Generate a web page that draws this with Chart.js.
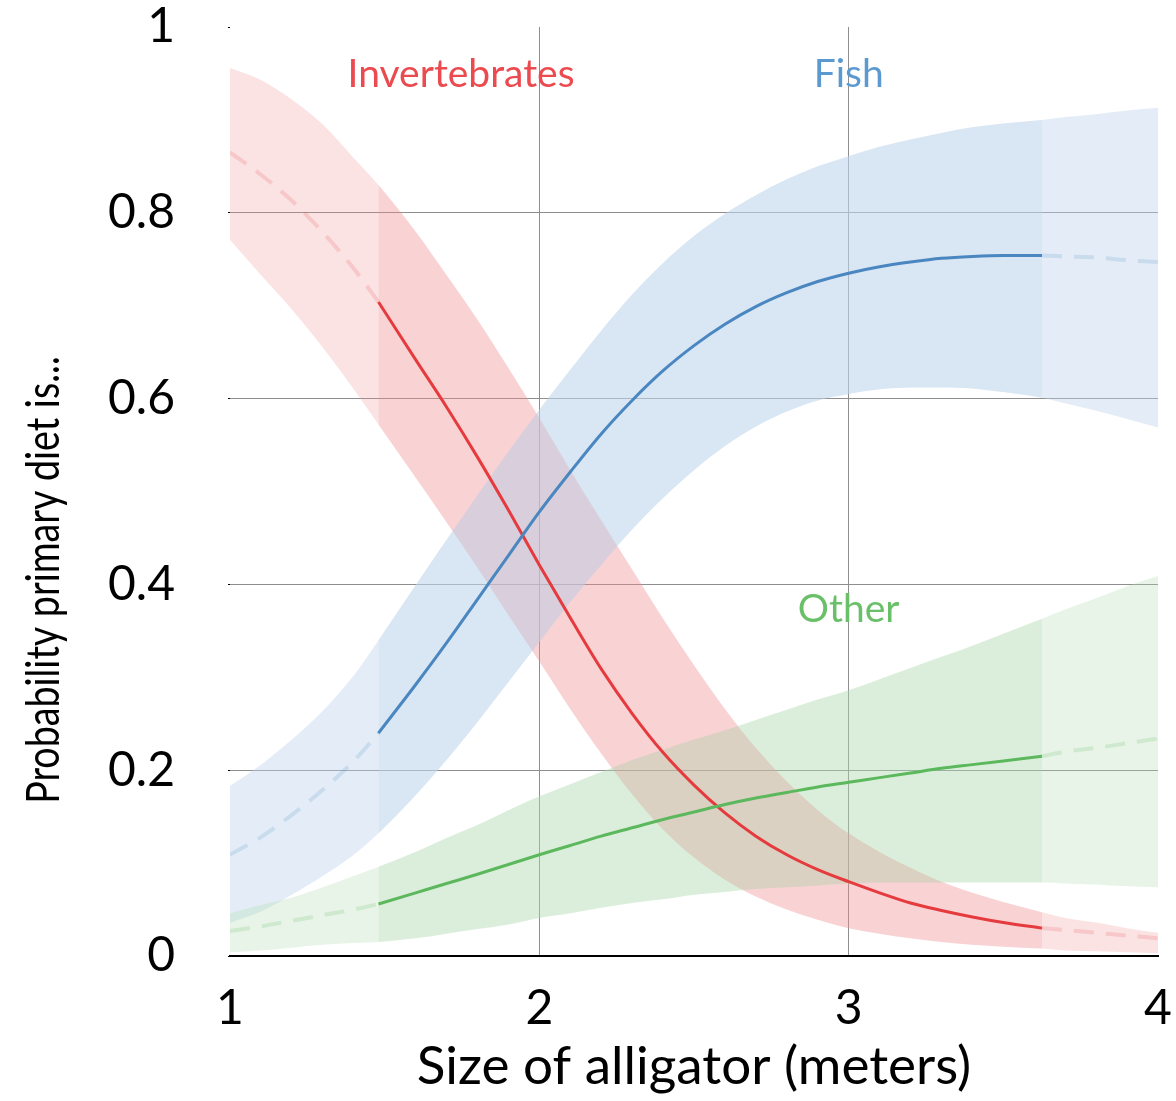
<!DOCTYPE html>
<html>
<head>
<meta charset="utf-8">
<title>Alligator diet by size</title>
<script src="https://cdn.jsdelivr.net/npm/chart.js@4"></script>
<style>
  html, body { margin: 0; padding: 0; background: #fff; }
  #wrap { width: 1176px; height: 1101px; position: relative; }
</style>
</head>
<body>
<div id="wrap"><canvas id="diet"></canvas></div>
<script>
// alligator length (m) where the fitted curves are evaluated
const sizes = [1.0, 1.1, 1.2, 1.3, 1.4, 1.48, 1.6, 1.7, 1.8, 1.9, 2.0, 2.1, 2.2, 2.3, 2.4, 2.5,
               2.6, 2.7, 2.8, 2.9, 3.0, 3.1, 3.2, 3.3, 3.4, 3.5, 3.625, 3.7, 3.8, 3.9, 4.0];

// sampled alligators only span this range, the rest is extrapolation
const observedFrom = 1.48;
const observedTo = 3.625;

const invertMean = [0.865, 0.841, 0.813, 0.779, 0.740, 0.704, 0.642, 0.591, 0.537, 0.480, 0.421, 0.364, 0.309, 0.261, 0.219, 0.184,
                    0.154, 0.129, 0.109, 0.093, 0.080, 0.068, 0.057, 0.049, 0.042, 0.036, 0.030, 0.028, 0.025, 0.022, 0.019];
const invertHigh = [0.956, 0.943, 0.922, 0.895, 0.859, 0.830, 0.780, 0.733, 0.685, 0.633, 0.579, 0.523, 0.469, 0.416, 0.363, 0.313,
                    0.266, 0.224, 0.188, 0.157, 0.132, 0.112, 0.095, 0.080, 0.068, 0.058, 0.047, 0.041, 0.036, 0.030, 0.025];
const invertLow  = [0.771, 0.733, 0.696, 0.655, 0.610, 0.572, 0.515, 0.467, 0.418, 0.367, 0.317, 0.266, 0.218, 0.174, 0.136, 0.106,
                    0.082, 0.064, 0.050, 0.039, 0.030, 0.024, 0.019, 0.015, 0.012, 0.010, 0.008, 0.006, 0.005, 0.004, 0.003];

const fishMean = [0.109, 0.128, 0.152, 0.179, 0.210, 0.240, 0.292, 0.337, 0.384, 0.431, 0.478, 0.521, 0.562, 0.598, 0.630, 0.657,
                  0.680, 0.699, 0.714, 0.726, 0.735, 0.742, 0.747, 0.751, 0.753, 0.754, 0.754, 0.753, 0.752, 0.749, 0.747];
const fishHigh = [0.183, 0.206, 0.233, 0.264, 0.302, 0.340, 0.399, 0.448, 0.496, 0.543, 0.588, 0.631, 0.673, 0.712, 0.746, 0.775,
                  0.799, 0.819, 0.836, 0.850, 0.861, 0.871, 0.879, 0.886, 0.892, 0.896, 0.900, 0.903, 0.906, 0.910, 0.913];
const fishLow  = [0.036, 0.048, 0.066, 0.086, 0.109, 0.132, 0.173, 0.211, 0.252, 0.295, 0.338, 0.381, 0.421, 0.459, 0.493, 0.523,
                  0.549, 0.570, 0.586, 0.598, 0.605, 0.610, 0.612, 0.612, 0.611, 0.607, 0.601, 0.595, 0.587, 0.578, 0.569];

const otherMean = [0.027, 0.032, 0.038, 0.044, 0.050, 0.056, 0.068, 0.078, 0.088, 0.0985, 0.109, 0.119, 0.129, 0.138, 0.147, 0.155,
                   0.163, 0.170, 0.176, 0.182, 0.187, 0.192, 0.197, 0.202, 0.206, 0.210, 0.215, 0.220, 0.224, 0.229, 0.234];
const otherHigh = [0.046, 0.055, 0.063, 0.074, 0.086, 0.096, 0.112, 0.127, 0.141, 0.157, 0.172, 0.185, 0.198, 0.211, 0.222, 0.233,
                   0.243, 0.254, 0.265, 0.276, 0.286, 0.298, 0.310, 0.322, 0.334, 0.347, 0.363, 0.373, 0.385, 0.398, 0.409];
const otherLow  = [0.004, 0.006, 0.009, 0.012, 0.014, 0.015, 0.019, 0.024, 0.029, 0.034, 0.041, 0.046, 0.052, 0.057, 0.061, 0.066,
                   0.069, 0.072, 0.074, 0.076, 0.078, 0.079, 0.079, 0.079, 0.079, 0.079, 0.079, 0.078, 0.077, 0.075, 0.074];

const xTickLabels = ['1', '2', '3', '4'];
const yTickLabels = ['0', '0.2', '0.4', '0.6', '0.8', '1'];

const FONT = 'Lato, "Open Sans", sans-serif';

// band: light tint + alpha for the whole curve and extra alpha over the observed part
const series = [
  { name: 'Invertebrates', mean: invertMean, high: invertHigh, low: invertLow,
    band: '240,140,145', outerA: 0.245, innerA: 0.205, rgb: '225,70,75',
    line: '#e53b3e', text: '#eb4a4f', at: [1.747, 0.935] },
  { name: 'Fish', mean: fishMean, high: fishHigh, low: fishLow,
    band: '190,212,235', outerA: 0.42, innerA: 0.31, rgb: '74,136,194',
    line: '#4a86c0', text: '#5a9ad0', at: [3.0, 0.935] },
  { name: 'Other', mean: otherMean, high: otherHigh, low: otherLow,
    band: '175,220,175', outerA: 0.30, innerA: 0.214, rgb: '92,184,92',
    line: '#5cb85c', text: '#6abf69', at: [3.0, 0.36] }
];

function pts(ys, from, to) {
  return sizes.map((x, i) => ({ x: x, y: ys[i] }))
    .filter(p => p.x >= from - 1e-9 && p.x <= to + 1e-9);
}

const base = { pointRadius: 0, pointHoverRadius: 0, cubicInterpolationMode: 'monotone' };

// index 0 ends up on top, so: solid means, dashed means, observed bands, full bands
const solid = [], dashed = [], inner = [], outer = [];
series.slice().reverse().forEach(s => {
  solid.push({ ...base, data: pts(s.mean, observedFrom, observedTo), borderColor: s.line, borderWidth: 3, fill: false });
  [[1, observedFrom], [observedTo, 4]].forEach(r => {
    dashed.push({ ...base, data: pts(s.mean, r[0], r[1]), borderColor: 'rgba(' + s.rgb + ',0.18)',
                  borderWidth: 4, borderDash: [20, 12], fill: false });
  });
  inner.push({ ...base, data: pts(s.high, observedFrom, observedTo), borderWidth: 0, borderColor: 'transparent',
               fill: '+1', backgroundColor: 'rgba(' + s.band + ',' + s.innerA + ')' });
  inner.push({ ...base, data: pts(s.low, observedFrom, observedTo), borderWidth: 0, borderColor: 'transparent', fill: false });
  outer.push({ ...base, data: pts(s.high, 1, 4), borderWidth: 0, borderColor: 'transparent',
               fill: '+1', backgroundColor: 'rgba(' + s.band + ',' + s.outerA + ')' });
  outer.push({ ...base, data: pts(s.low, 1, 4), borderWidth: 0, borderColor: 'transparent', fill: false });
});

// series names written inside the plot, plus the rotated y title
const labelPlugin = {
  id: 'labels',
  afterDraw(chart) {
    const { ctx, scales: { x, y } } = chart;
    ctx.save();
    ctx.font = '39px ' + FONT;
    ctx.textAlign = 'center';
    ctx.textBaseline = 'alphabetic';
    series.forEach(s => {
      ctx.fillStyle = s.text;
      ctx.fillText(s.name, x.getPixelForValue(s.at[0]), y.getPixelForValue(s.at[1]));
    });
    ctx.translate(44, 580);
    ctx.rotate(-Math.PI / 2);
    ctx.scale(0.8, 1);
    ctx.font = '47px ' + FONT;
    ctx.fillStyle = '#000';
    ctx.textBaseline = 'middle';
    ctx.fillText('Probability primary diet is...', 0, 0);
    ctx.restore();
  }
};

new Chart(document.getElementById('diet'), {
  type: 'line',
  data: { datasets: [...solid, ...dashed, ...inner, ...outer] },
  options: {
    responsive: true,
    maintainAspectRatio: false,
    animation: false,
    layout: { padding: { top: 27, right: 18, left: 0, bottom: 0 } },
    plugins: { legend: { display: false }, tooltip: { enabled: false } },
    scales: {
      x: {
        type: 'linear', min: 1, max: 4,
        afterFit: s => { s.height = 145; s.paddingLeft = 0; s.paddingRight = 0; },
        ticks: {
          stepSize: 1, padding: 29, color: '#000',
          font: { family: FONT, size: 48, lineHeight: 1 },
          callback: v => xTickLabels[v - 1]
        },
        grid: {
          drawTicks: false, lineWidth: 1,
          color: c => (c.index === 1 || c.index === 2) ? '#8e8e8e' : 'transparent'
        },
        border: { color: '#000', width: 2 },
        title: {
          display: true, text: 'Size of alligator (meters)', color: '#000',
          font: { family: FONT, size: 53 }, padding: { top: 0, bottom: 2 }
        }
      },
      y: {
        min: 0, max: 1,
        afterFit: s => { s.width = 230; s.paddingTop = 0; s.paddingBottom = 0; },
        ticks: {
          stepSize: 0.2, padding: 53, color: '#000',
          font: { family: FONT, size: 48, lineHeight: 1 },
          callback: (v, i) => yTickLabels[i]
        },
        grid: {
          lineWidth: 1, tickLength: 2, tickColor: '#000',
          color: c => (c.index > 0 && c.index < 5) ? '#8e8e8e' : 'transparent'
        },
        border: { display: false }
      }
    }
  },
  plugins: [labelPlugin]
});
</script>
</body>
</html>
